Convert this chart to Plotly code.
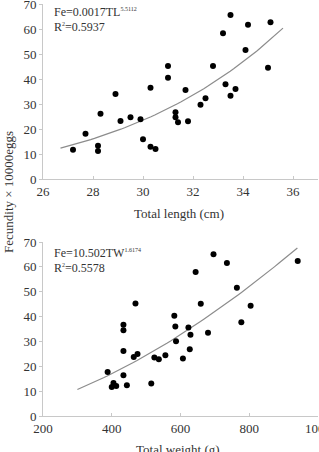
import numpy as np
import plotly.graph_objects as go

# Total length (cm) vs fecundity (x10000 eggs)
tl_length = [27.2, 27.7, 28.2, 28.2, 28.3, 28.9, 29.1, 29.5, 29.9, 30.0, 30.3, 30.3,
             30.5, 31.0, 31.0, 31.3, 31.3, 31.4, 31.7, 31.8, 32.3, 32.5, 32.8, 33.2,
             33.3, 33.5, 33.5, 33.7, 34.1, 34.2, 35.0, 35.1]
tl_fecundity = [11.7, 18.1, 13.3, 11.2, 26.1, 34.0, 23.2, 24.7, 23.9, 15.9, 36.5, 12.9,
                12.0, 45.2, 40.5, 26.7, 24.7, 22.7, 35.6, 23.1, 29.7, 32.3, 45.2, 58.3,
                37.9, 65.6, 33.3, 36.0, 51.6, 61.7, 44.5, 62.7]

# Total weight (g) vs fecundity (x10000 eggs)
tw_weight = [388, 400, 405, 413, 434, 434, 434, 434, 444, 464, 469, 475, 515, 524, 537, 556,
             582, 585, 587, 607, 623, 627, 629, 644, 659, 680, 696, 735, 764, 777, 804, 941]
tw_fecundity = [17.7, 11.7, 13.3, 12.1, 36.7, 34.5, 26.1, 16.4, 12.4, 23.7, 45.3, 24.9,
                13.1, 23.5, 22.8, 24.4, 40.3, 36.0, 30.1, 23.1, 35.6, 26.9, 32.7, 57.9,
                45.2, 33.5, 65.1, 61.6, 51.6, 37.7, 44.4, 62.4]

# Fitted power equations shown on the chart (Fe in eggs)
tl_a, tl_b = 0.0017, 5.5112
tw_a, tw_b = 10.502, 1.6174
tl_fit_range = [26.7, 35.6]
tw_fit_range = [300, 940]

tl_x = np.linspace(tl_fit_range[0], tl_fit_range[1], 60)
tl_y = tl_a * tl_x ** tl_b / 10000
tw_x = np.linspace(tw_fit_range[0], tw_fit_range[1], 60)
tw_y = tw_a * tw_x ** tw_b / 10000

y_ticks = [0, 10, 20, 30, 40, 50, 60, 70]
tl_ticks = [26, 28, 30, 32, 34, 36]
tw_ticks = [200, 400, 600, 800, 1000]

FONT = "Liberation Serif"
AX = "#c8c8c8"

fig = go.Figure()
fig.add_trace(go.Scatter(x=tl_x, y=tl_y, mode="lines", line=dict(color="#8c8c8c", width=1.2),
                         xaxis="x", yaxis="y", showlegend=False, hoverinfo="skip"))
fig.add_trace(go.Scatter(x=tl_length, y=tl_fecundity, mode="markers",
                         marker=dict(color="black", size=6), xaxis="x", yaxis="y", showlegend=False))
fig.add_trace(go.Scatter(x=tw_x, y=tw_y, mode="lines", line=dict(color="#8c8c8c", width=1.2),
                         xaxis="x2", yaxis="y2", showlegend=False, hoverinfo="skip"))
fig.add_trace(go.Scatter(x=tw_weight, y=tw_fecundity, mode="markers",
                         marker=dict(color="black", size=6), xaxis="x2", yaxis="y2", showlegend=False))

axis_common = dict(showgrid=False, zeroline=False, showline=True, linecolor=AX, linewidth=1,
                   tickcolor=AX, ticklen=3, automargin=False, ticklabeloverflow="allow",
                   showticklabels=True)
tick_font = dict(family=FONT, size=13, color="#333333")

H = 412.0
def py(p):
    return (416 - p) / H

fig.update_layout(
    width=319, height=452,
    margin=dict(l=43, r=1, t=4, b=36, autoexpand=False),
    paper_bgcolor="white", plot_bgcolor="white",
    font=dict(family=FONT, color="#333"),
    xaxis=dict(domain=[0, 1], range=[26, 37], tickmode="array", tickvals=tl_ticks,
               ticks="inside", anchor="y", tickfont=tick_font, **axis_common),
    yaxis=dict(domain=[py(179), 1], range=[0, 70], tickmode="array", tickvals=y_ticks,
               ticktext=[str(v) for v in y_ticks],
               ticks="outside", anchor="x", side="left", tickfont=tick_font, **axis_common),
    xaxis2=dict(domain=[0, 1], range=[200, 1000], tickmode="array", tickvals=tw_ticks,
                ticks="inside", anchor="y2", tickfont=tick_font, **axis_common),
    yaxis2=dict(domain=[0, py(242)], range=[0, 70], tickmode="array", tickvals=y_ticks,
                ticktext=[str(v) for v in y_ticks],
                ticks="outside", anchor="x2", side="left", tickfont=tick_font, **axis_common),
)

def px(p):
    return (p - 43) / 275.0

ann_font = dict(family=FONT, size=12, color="#333")
annotations = [
    dict(text="Fe=0.0017TL<sup><span style='font-size:6px'>5.5112</span></sup>",
         x=px(52), y=py(12), xanchor="left", yanchor="middle"),
    dict(text="R<sup><span style='font-size:6px'>2</span></sup>=0.5937",
         x=px(52), y=py(27), xanchor="left", yanchor="middle"),
    dict(text="Fe=10.502TW<sup><span style='font-size:6px'>1.6174</span></sup>",
         x=px(52), y=py(253), xanchor="left", yanchor="middle"),
    dict(text="R<sup><span style='font-size:6px'>2</span></sup>=0.5578",
         x=px(52), y=py(268), xanchor="left", yanchor="middle"),
]
for a in annotations:
    fig.add_annotation(xref="paper", yref="paper", showarrow=False, font=ann_font, **a)

title_font = dict(family=FONT, size=13, color="#333")
fig.add_annotation(text="Total length (cm)", xref="paper", yref="paper", x=px(179), y=py(213),
                   xanchor="center", yanchor="middle", showarrow=False, font=title_font)
fig.add_annotation(text="Total weight (g)", xref="paper", yref="paper", x=px(178), y=py(449),
                   xanchor="center", yanchor="middle", showarrow=False, font=title_font)
fig.add_annotation(text="Fecundity × 10000eggs", xref="paper", yref="paper", x=px(8), y=py(192),
                   xanchor="center", yanchor="middle", textangle=-90, showarrow=False, font=title_font)

fig.write_html("out.html")
